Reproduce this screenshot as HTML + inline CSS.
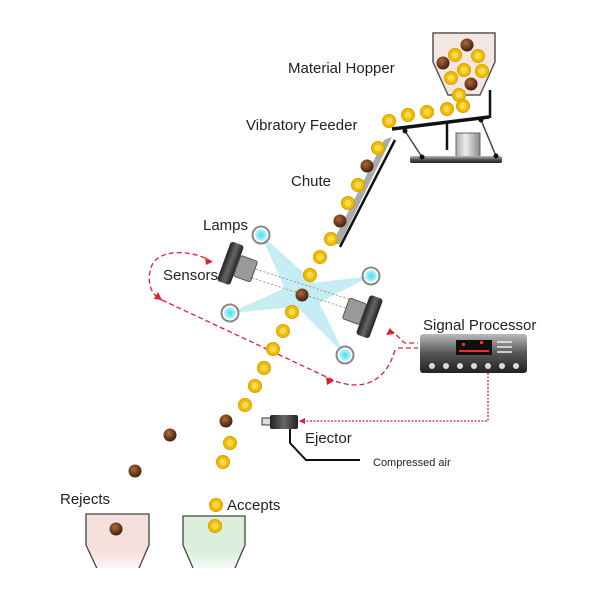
<!DOCTYPE html>
<html><head><style>
html,body{margin:0;padding:0;background:#fff;}
svg{display:block;font-family:"Liberation Sans",sans-serif;}
</style></head><body>
<svg width="600" height="600" viewBox="0 0 600 600">
<defs>
<radialGradient id="y" cx="50%" cy="50%" r="50%"><stop offset="0" stop-color="#fff3a0"/><stop offset="0.35" stop-color="#f5c400"/><stop offset="1" stop-color="#f0b800"/></radialGradient>
<radialGradient id="b" cx="40%" cy="35%" r="60%"><stop offset="0" stop-color="#b06a3a"/><stop offset="1" stop-color="#4a2510"/></radialGradient>
<radialGradient id="l" cx="50%" cy="50%" r="50%"><stop offset="0" stop-color="#40e0f0"/><stop offset="1" stop-color="#c0f4fa"/></radialGradient>
<linearGradient id="cam" x1="0" x2="1"><stop offset="0" stop-color="#222"/><stop offset="0.5" stop-color="#666"/><stop offset="1" stop-color="#222"/></linearGradient>
<linearGradient id="sp" x1="0" y1="0" x2="0" y2="1"><stop offset="0" stop-color="#bbb"/><stop offset="0.5" stop-color="#555"/><stop offset="1" stop-color="#222"/></linearGradient>
<linearGradient id="cyl" x1="0" x2="1"><stop offset="0" stop-color="#aaa"/><stop offset="0.4" stop-color="#eee"/><stop offset="1" stop-color="#888"/></linearGradient>
<linearGradient id="rb" x1="0" y1="0" x2="0" y2="1"><stop offset="0.6" stop-color="#f6e0dc"/><stop offset="1" stop-color="#fff"/></linearGradient>
<linearGradient id="gb" x1="0" y1="0" x2="0" y2="1"><stop offset="0.6" stop-color="#dcefdc"/><stop offset="1" stop-color="#fff"/></linearGradient>
<g id="Y"><circle r="6.5" fill="url(#y)" stroke="#d9a000" stroke-width="1"/><circle r="2.5" fill="none" stroke="#ffe680" stroke-width="1"/></g>
<g id="B"><circle r="6.5" fill="url(#b)"/></g>
<g id="L"><circle r="8.5" fill="none" stroke="#888" stroke-width="2"/><circle r="6" fill="url(#l)"/></g>
</defs>

<!-- light beams -->
<g fill="#a8e4ef" opacity="0.65">
<polygon points="261,235 292,305 318,285"/>
<polygon points="371,276 296,285 305,310"/>
<polygon points="230,313 296,283 306,306"/>
<polygon points="345,355 290,300 312,288"/>
</g>
<g stroke="#999" stroke-width="1" stroke-dasharray="2,2">
<line x1="252" y1="268" x2="352" y2="300"/><line x1="252" y1="278" x2="352" y2="310"/>
</g>

<!-- hopper -->
<polygon points="433,33 495,33 495,62 480,95 448,95 433,62" fill="#f5e6e2" stroke="#555" stroke-width="1.5"/>
<!-- feeder -->
<line x1="392" y1="129" x2="489" y2="117" stroke="#111" stroke-width="3.5"/>
<line x1="490" y1="118" x2="490" y2="90" stroke="#111" stroke-width="2.5"/>
<line x1="447" y1="123" x2="447" y2="150" stroke="#111" stroke-width="2.5"/>
<line x1="405" y1="131" x2="422" y2="157" stroke="#444" stroke-width="1.5"/>
<line x1="481" y1="120" x2="496" y2="156" stroke="#444" stroke-width="1.5"/>
<circle cx="405" cy="131" r="2.5" fill="#111"/><circle cx="481" cy="120" r="2.5" fill="#111"/>
<rect x="456" y="133" width="24" height="24" fill="url(#cyl)" stroke="#666"/>
<rect x="410" y="156" width="92" height="7" rx="2" fill="url(#sp)"/>
<circle cx="422" cy="157" r="2.5" fill="#111"/><circle cx="496" cy="156" r="2.5" fill="#111"/>

<!-- chute -->
<polygon points="384,140 392,137 340,244 332,244" fill="#aaa"/>
<line x1="395" y1="140" x2="340" y2="247" stroke="#111" stroke-width="2.5"/>

<!-- lamps -->
<use href="#L" x="261" y="235"/><use href="#L" x="371" y="276"/><use href="#L" x="230" y="313"/><use href="#L" x="345" y="355"/>

<!-- cameras -->
<g transform="translate(238,266) rotate(20)"><rect x="-15" y="-21" width="14" height="42" rx="3" fill="url(#cam)"/><rect x="-1" y="-11" width="18" height="22" rx="2" fill="#999" stroke="#555"/></g>
<g transform="translate(362,314) rotate(20)"><rect x="1" y="-21" width="14" height="42" rx="3" fill="url(#cam)"/><rect x="-17" y="-11" width="18" height="22" rx="2" fill="#999" stroke="#555"/></g>

<!-- red dashed loops -->
<g fill="none" stroke="#e02030" stroke-width="1.3" stroke-dasharray="5,3">
<path d="M212,262 C195,250 160,248 152,265 C146,280 150,295 162,300"/>
<path d="M162,300 L335,381 C360,390 385,385 395,350"/>
<path d="M390,330 C398,335 400,340 405,343 L418,343"/>
<line x1="398" y1="348" x2="418" y2="348"/>
</g>
<g fill="#e02030"><polygon points="212,262 205,257 206,265"/><polygon points="162,300 158,292 154,299"/><polygon points="334,381 326,377 327,385"/><polygon points="390,328 386,335 394,334"/></g>
<path d="M488,373 L488,421 L299,421" fill="none" stroke="#e02030" stroke-width="1.3" stroke-dasharray="2,1.5"/>
<polygon points="299,421 305,418 305,424" fill="#e02030"/>

<!-- signal processor -->
<rect x="420" y="334" width="107" height="39" rx="3" fill="url(#sp)"/>
<rect x="456" y="340" width="36" height="15" fill="#111"/>
<g fill="#f03030"><rect x="462" y="343" width="3" height="3"/><rect x="480" y="341" width="3" height="3"/><rect x="459" y="350" width="30" height="2"/></g>
<g stroke="#eee" stroke-width="1.5"><line x1="497" y1="342" x2="512" y2="342"/><line x1="497" y1="347" x2="512" y2="347"/><line x1="497" y1="352" x2="512" y2="352"/></g>
<g fill="#ddd"><circle cx="432" cy="366" r="3"/><circle cx="446" cy="366" r="3"/><circle cx="460" cy="366" r="3"/><circle cx="474" cy="366" r="3"/><circle cx="488" cy="366" r="3"/><circle cx="502" cy="366" r="3"/><circle cx="516" cy="366" r="3"/></g>

<!-- ejector -->
<rect x="262" y="418" width="9" height="7" fill="#ddd" stroke="#333"/>
<rect x="270" y="415" width="28" height="14" rx="2" fill="url(#cam)"/>
<path d="M290,429 L290,443 L306,460 L360,460" fill="none" stroke="#111" stroke-width="2"/>

<!-- bins -->
<polygon points="86,514 149,514 149,545 136,575 100,575 86,545" fill="url(#rb)" stroke="#444" stroke-width="1.3"/>
<polygon points="183,516 245,516 245,545 232,575 196,575 183,545" fill="url(#gb)" stroke="#444" stroke-width="1.3"/>
<rect x="80" y="568" width="180" height="12" fill="#fff"/>

<!-- balls -->
<use href="#B" x="467" y="45"/><use href="#B" x="443" y="63"/><use href="#B" x="471" y="84"/>
<use href="#Y" x="455" y="55"/><use href="#Y" x="478" y="56"/><use href="#Y" x="464" y="70"/><use href="#Y" x="482" y="71"/><use href="#Y" x="451" y="78"/><use href="#Y" x="459" y="95"/>
<use href="#Y" x="463" y="106"/><use href="#Y" x="447" y="109"/><use href="#Y" x="427" y="112"/><use href="#Y" x="408" y="115"/><use href="#Y" x="389" y="121"/>
<use href="#Y" x="378" y="148"/><use href="#B" x="367" y="166"/><use href="#Y" x="358" y="185"/><use href="#Y" x="348" y="203"/><use href="#B" x="340" y="221"/><use href="#Y" x="331" y="239"/>
<use href="#Y" x="320" y="257"/><use href="#Y" x="310" y="275"/><use href="#B" x="302" y="295"/><use href="#Y" x="292" y="312"/><use href="#Y" x="283" y="331"/><use href="#Y" x="273" y="349"/><use href="#Y" x="264" y="368"/><use href="#Y" x="255" y="386"/>
<use href="#Y" x="245" y="405"/><use href="#B" x="226" y="421"/><use href="#Y" x="230" y="443"/><use href="#Y" x="223" y="462"/>
<use href="#Y" x="216" y="505"/><use href="#Y" x="215" y="526"/>
<use href="#B" x="170" y="435"/><use href="#B" x="135" y="471"/><use href="#B" x="116" y="529"/>

<!-- labels -->
<g fill="#222" font-size="15">
<text x="288" y="73">Material Hopper</text>
<text x="246" y="130">Vibratory Feeder</text>
<text x="291" y="186">Chute</text>
<text x="203" y="230">Lamps</text>
<text x="163" y="280">Sensors</text>
<text x="423" y="330">Signal Processor</text>
<text x="305" y="443">Ejector</text>
<text x="60" y="504">Rejects</text>
<text x="227" y="510">Accepts</text>
<text x="373" y="466" font-size="11">Compressed air</text>
</g>
</svg>
</body></html>
